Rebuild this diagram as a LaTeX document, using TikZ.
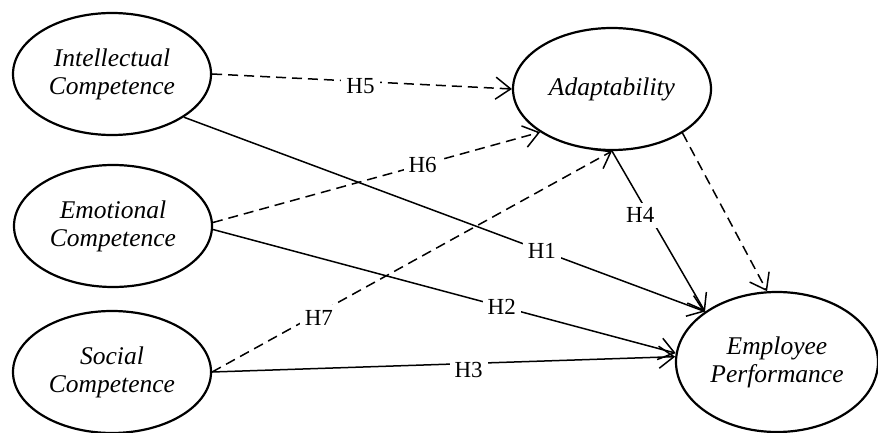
\documentclass[tikz,border=0pt]{standalone}
\usepackage{fontspec}
\setmainfont{Liberation Serif}
\usetikzlibrary{shapes.geometric,arrows.meta}

\tikzset{
  construct/.style={ellipse, draw, line width=2.2pt, inner sep=0pt,
    minimum width=198pt, minimum height=122pt, align=center,
    font=\fontsize{25.5}{28}\selectfont\itshape},
  path/.style={line width=1.5pt, -{Straight Barb[length=15pt,width=22pt,line width=1.5pt]}},
  mediated/.style={path, dash pattern=on 10pt off 6pt},
  hyp/.style={fill=white, inner sep=5pt, font=\fontsize{23}{25}\selectfont}
}

\begin{document}
\begin{tikzpicture}[x=1pt, y=-1pt]
  \useasboundingbox (0,0) rectangle (878,433);

  % latent constructs
  \node[construct] (ic) at (112,74)  {Intellectual\\Competence};
  \node[construct] (ec) at (113,226) {Emotional\\Competence};
  \node[construct] (sc) at (112,372) {Social\\Competence};
  \node[construct] (ad) at (612,89)  {Adaptability};
  \node[construct, minimum width=202pt, minimum height=140pt] (ep) at (777,362) {Employee\\Performance};

  % direct effects
  \draw[path] (ic.-31) -- node[hyp, pos=0.687] (h1) {H1} (ep.145);
  \draw[path] (ec.-2)  -- node[hyp, pos=0.624] (h2) {H2} (ep.175);
  \draw[path] (sc.east) -- node[hyp, pos=0.554, yshift=-6pt] (h3) {H3} (ep.177);
  \draw[path] (ad.south) -- node[hyp, pos=0.4, xshift=-9pt] (h4) {H4} (ep.145);

  % effects on adaptability
  \draw[mediated] (ic.east) -- node[hyp, pos=0.495, yshift=-5pt] (h5) {H5} (ad.west);
  \draw[mediated] (ec.2) -- node[hyp, pos=0.641] (h6) {H6} (ad.211);
  \draw[mediated] (sc.east) -- node[hyp, pos=0.267, yshift=-5pt] (h7) {H7} (ad.south);

  % adaptability to performance
  \draw[mediated] (ad.-32) -- (ep.98);
\end{tikzpicture}
\end{document}
